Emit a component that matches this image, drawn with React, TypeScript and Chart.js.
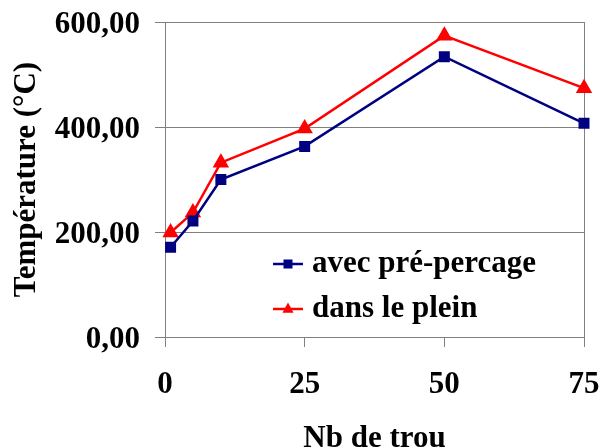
import React, { useEffect, useRef } from "react";
import { Chart, registerables } from "chart.js";

Chart.register(...registerables);

const nbTrou = [1, 5, 10, 25, 50, 75];
const avecPrePercage = [171, 221, 300, 363, 534, 407];
const dansLePlein = [199, 237, 332, 397, 574, 474];
const seriesLabels = ["avec pré-percage", "dans le plein"];
const seriesColors = ["#000080", "#FF0000"];
const xTicks = [0, 25, 50, 75];
const yTicks = [0, 200, 400, 600];
const xTitle = "Nb de trou";
const yTitle = "Température (°C)";

const FONT = '"Liberation Serif", "Times New Roman", serif';
const FS = 31;

const framePlugin = {
  id: "frame",
  beforeDatasetsDraw(chart: any) {
    const { ctx, chartArea } = chart;
    ctx.save();
    ctx.strokeStyle = "#808080";
    ctx.lineWidth = 1;
    ctx.strokeRect(
      Math.round(chartArea.left) + 0.5,
      Math.round(chartArea.top) + 0.5,
      Math.round(chartArea.right - chartArea.left),
      Math.round(chartArea.bottom - chartArea.top)
    );
    ctx.restore();
  },
};

const legendPlugin = {
  id: "insideLegend",
  afterDatasetsDraw(chart: any) {
    const { ctx, chartArea } = chart;
    const x0 = chartArea.left + 108;
    const ys = [chartArea.top + 242, chartArea.top + 287];
    ctx.save();
    chart.data.datasets.forEach((ds: any, i: number) => {
      const y = ys[i];
      ctx.strokeStyle = ds.borderColor;
      ctx.lineWidth = ds.borderWidth;
      ctx.beginPath();
      ctx.moveTo(x0, y);
      ctx.lineTo(x0 + 30, y);
      ctx.stroke();
      ctx.fillStyle = ds.pointBackgroundColor;
      const cx = x0 + 15;
      if (ds.pointStyle === "rect") {
        const r = 4.5;
        ctx.fillRect(cx - r, y - r, 2 * r, 2 * r);
      } else {
        const r = 5.5;
        ctx.beginPath();
        ctx.moveTo(cx, y - r * 1.2);
        ctx.lineTo(cx + r, y + r * 0.7);
        ctx.lineTo(cx - r, y + r * 0.7);
        ctx.closePath();
        ctx.fill();
      }
      ctx.fillStyle = "#000";
      ctx.font = `bold ${FS}px ${FONT}`;
      ctx.textBaseline = "middle";
      ctx.textAlign = "left";
      ctx.fillText(ds.label, x0 + 39, y);
    });
    ctx.restore();
  },
};

export default function App() {
  const ref = useRef<HTMLCanvasElement>(null);
  useEffect(() => {
    if (!ref.current) return;
    const chart = new Chart(ref.current, {
      type: "line",
      data: {
        datasets: [
          {
            label: seriesLabels[0],
            data: nbTrou.map((x, i) => ({ x, y: avecPrePercage[i] })),
            borderColor: seriesColors[0],
            backgroundColor: seriesColors[0],
            pointBackgroundColor: seriesColors[0],
            pointBorderColor: seriesColors[0],
            pointStyle: "rect",
            pointRadius: 6,
            borderWidth: 2.5,
            clip: false,
          } as any,
          {
            label: seriesLabels[1],
            data: nbTrou.map((x, i) => ({ x, y: dansLePlein[i] })),
            borderColor: seriesColors[1],
            backgroundColor: seriesColors[1],
            pointBackgroundColor: seriesColors[1],
            pointBorderColor: seriesColors[1],
            pointStyle: "triangle",
            pointRadius: 7,
            borderWidth: 2.5,
            clip: false,
          } as any,
        ],
      },
      options: {
        animation: false,
        responsive: false,
        layout: { padding: { top: 22, right: 18, left: 0, bottom: 0 } },
        plugins: {
          legend: { display: false },
          title: { display: false },
          tooltip: { enabled: false },
        },
        scales: {
          x: {
            type: "linear",
            min: 0,
            max: 75,
            afterBuildTicks: (s: any) => {
              s.ticks = xTicks.map((v) => ({ value: v }));
            },
            afterFit: (s: any) => {
              s.height = 111;
              s.paddingLeft = 0;
              s.paddingRight = 0;
            },
            grid: {
              drawOnChartArea: false,
              drawTicks: true,
              tickLength: 10,
              color: "#808080",
            },
            border: { display: true, color: "#808080" },
            ticks: {
              color: "#000",
              padding: 19,
              maxRotation: 0,
              font: { family: FONT, size: FS, weight: "bold" },
            },
            title: {
              display: true,
              text: xTitle,
              color: "#000",
              font: { family: FONT, size: FS, weight: "bold" },
              padding: { top: 0, bottom: -10 },
            },
          },
          y: {
            type: "linear",
            min: 0,
            max: 600,
            afterBuildTicks: (s: any) => {
              s.ticks = yTicks.map((v) => ({ value: v }));
            },
            afterFit: (s: any) => {
              s.width = 165;
              s.paddingTop = 0;
              s.paddingBottom = 0;
            },
            grid: {
              drawOnChartArea: true,
              drawTicks: true,
              tickLength: 10,
              color: "#808080",
            },
            border: { display: true, color: "#808080" },
            ticks: {
              color: "#000",
              padding: 15,
              labelOffset: 3,
              font: { family: FONT, size: FS, weight: "bold" },
              callback: (v: any) => Number(v).toFixed(2).replace(".", ","),
            },
            title: {
              display: true,
              text: yTitle,
              color: "#000",
              font: { family: FONT, size: FS, weight: "bold" },
              padding: { top: 8, bottom: 0 },
            },
          },
        },
      } as any,
      plugins: [framePlugin, legendPlugin],
    });
    return () => chart.destroy();
  }, []);
  return (
    <div style={{ position: "absolute", left: 0, top: 0, width: 602, height: 448, background: "#fff" }}>
      <canvas ref={ref} width={602} height={448} style={{ display: "block" }} />
    </div>
  );
}
